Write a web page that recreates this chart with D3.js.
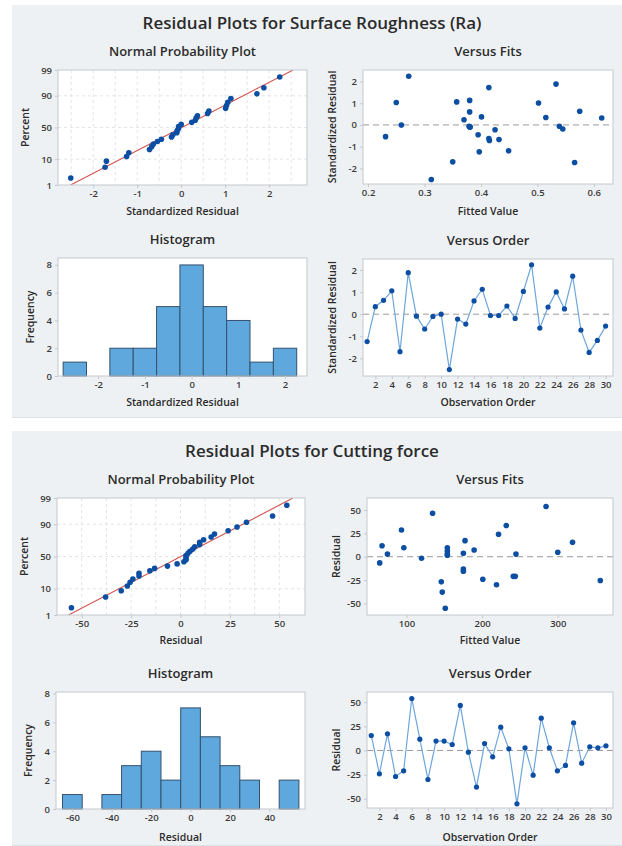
<!DOCTYPE html>
<html>
<head>
<meta charset="utf-8">
<script src="https://cdn.jsdelivr.net/npm/d3@7"></script>
<style>
  html, body { margin: 0; padding: 0; background: #ffffff; }
  svg { display: block; }
  text { font-family: "Open Sans", "Noto Sans", sans-serif; }
</style>
</head>
<body>
<script>
// ---- Surface Roughness (Ra): standardized residuals and fitted values, by run order ----
const surfaceResiduals = [-1.24, 0.34, 0.63, 1.06, -1.70, 1.88, -0.09, -0.67, -0.10, 0.00,
                          -2.51, -0.22, -0.45, 0.60, 1.13, -0.06, -0.06, 0.37, -0.19, 1.03,
                          2.24, -0.63, 0.32, 1.01, 0.24, 1.72, -0.72, -1.73, -1.19, -0.54];
const surfaceFits = [0.397, 0.515, 0.575, 0.357, 0.350, 0.533, 0.380, 0.432, 0.381, 0.259,
                     0.312, 0.425, 0.395, 0.380, 0.380, 0.539, 0.379, 0.401, 0.545, 0.250,
                     0.272, 0.414, 0.614, 0.502, 0.370, 0.414, 0.415, 0.566, 0.449, 0.231];
const surfaceBinEdges = [-2.75, -2.25, -1.75, -1.25, -0.75, -0.25, 0.25, 0.75, 1.25, 1.75, 2.25];

// ---- Cutting force: residuals and fitted values, by run order ----
const cuttingResiduals = [15.5, -24.1, 17.2, -26.9, -21.0, 53.8, 11.7, -30.0, 9.7, 9.7,
                          6.2, 46.6, -1.7, -37.9, 7.2, -6.6, 24.1, 1.7, -55.2, 2.8,
                          -25.5, 33.4, 2.8, -21.0, -15.5, 28.6, -13.1, 3.8, 2.8, 4.8];
const cuttingFits = [319.5, 200.9, 177.4, 146.0, 241.2, 284.5, 67.7, 219.0, 96.5, 154.0,
                     154.0, 134.5, 119.9, 147.3, 189.4, 64.6, 221.7, 154.0, 151.3, 74.8,
                     356.2, 231.9, 154.0, 243.8, 175.2, 93.4, 175.2, 175.2, 244.7, 300.0];
const cuttingBinEdges = [-65, -55, -45, -35, -25, -15, -5, 5, 15, 25, 35, 45, 55];

// ---- Tick labels ----
const percentTicks = [1, 10, 50, 90, 99];
const percentGrid = [10, 50, 90];
const orderTicks = [2, 4, 6, 8, 10, 12, 14, 16, 18, 20, 22, 24, 26, 28, 30];
const freqTicks = [0, 2, 4, 6, 8];
const surfaceStdTicks = [-2, -1, 0, 1, 2];
const surfaceNppGrid = [-2.5, -2, -1.5, -1, -0.5, 0, 0.5, 1, 1.5, 2, 2.5];
const surfaceFitTicks = [0.2, 0.3, 0.4, 0.5, 0.6];
const cuttingResidTicks = [-50, -25, 0, 25, 50];
const cuttingNppGrid = [-50, -37.5, -25, -12.5, 0, 12.5, 25, 37.5, 50];
const cuttingFitTicks = [100, 200, 300];
const cuttingHistTicks = [-60, -40, -20, 0, 20, 40];

const W = 622, H = 846;
const svg = d3.select("body").append("svg").attr("width", W).attr("height", H);

const COLORS = {
  panel: "#eef1f3", panelEdge: "#dde2e6", frame: "#c3c9cf", text: "#2b2b2b",
  tick: "#3a3a3a", point: "#0b4ea2", link: "#6ea6dc", fitLine: "#d2554f",
  bar: "#5ea8dd", barEdge: "#34516e", ref: "#9a9a9a", grid: "#e1e4e8"
};

// Inverse standard normal CDF (Acklam's rational approximation)
function qnorm(p) {
  const a = [-3.969683028665376e+01, 2.209460984245205e+02, -2.759285104469687e+02, 1.383577518672690e+02, -3.066479806614716e+01, 2.506628277459239e+00];
  const b = [-5.447609879822406e+01, 1.615858368580409e+02, -1.556989798598866e+02, 6.680131188771972e+01, -1.328068155288572e+01];
  const c = [-7.784894002430293e-03, -3.223964580411365e-01, -2.400758277161838e+00, -2.549732539343734e+00, 4.374664141464968e+00, 2.938163982698783e+00];
  const d = [7.784695709041462e-03, 3.224671290700398e-01, 2.445134137142996e+00, 3.754408661907416e+00];
  const pl = 0.02425;
  let q, r;
  if (p < pl) {
    q = Math.sqrt(-2 * Math.log(p));
    return (((((c[0]*q+c[1])*q+c[2])*q+c[3])*q+c[4])*q+c[5]) / ((((d[0]*q+d[1])*q+d[2])*q+d[3])*q+1);
  }
  if (p <= 1 - pl) {
    q = p - 0.5; r = q * q;
    return (((((a[0]*r+a[1])*r+a[2])*r+a[3])*r+a[4])*r+a[5])*q / (((((b[0]*r+b[1])*r+b[2])*r+b[3])*r+b[4])*r+1);
  }
  q = Math.sqrt(-2 * Math.log(1 - p));
  return -(((((c[0]*q+c[1])*q+c[2])*q+c[3])*q+c[4])*q+c[5]) / ((((d[0]*q+d[1])*q+d[2])*q+d[3])*q+1);
}

const fmt = d => String(d);

function text(g, x, y, s, size, opts = {}) {
  const t = g.append("text").attr("x", x).attr("y", y).text(s)
    .attr("font-size", size).attr("font-weight", opts.weight || 600)
    .attr("fill", opts.fill || COLORS.text).attr("text-anchor", opts.anchor || "middle");
  if (opts.rotate) t.attr("transform", `rotate(-90,${x},${y})`);
  return t;
}

// Plot frame with subtitle and axis titles
function frame(box, title, xTitle, yTitle, xTitleY, yTitleX) {
  const g = svg.append("g");
  g.append("rect").attr("x", box.x0).attr("y", box.y0)
    .attr("width", box.x1 - box.x0).attr("height", box.y1 - box.y0)
    .attr("fill", "#ffffff");
  const cx = (box.x0 + box.x1) / 2, cy = (box.y0 + box.y1) / 2;
  text(g, cx, box.y0 - 14, title, 13);
  text(g, cx, xTitleY, xTitle, 10.5);
  text(g, yTitleX, cy, yTitle, 10.5, { rotate: true });
  return g;
}

function axes(g, box, x, y, xTicks, yTicks, yTickFmt) {
  const ax = g.append("g").attr("transform", `translate(0,${box.y1})`)
    .call(d3.axisBottom(x).tickValues(xTicks).tickFormat(fmt).tickSize(3).tickPadding(2));
  const ay = g.append("g").attr("transform", `translate(${box.x0},0)`)
    .call(d3.axisLeft(y).tickValues(yTicks).tickFormat(yTickFmt || fmt).tickSize(3).tickPadding(3));
  [ax, ay].forEach(a => {
    a.select(".domain").remove();
    a.selectAll(".tick line").attr("stroke", COLORS.frame);
    a.selectAll(".tick text").attr("font-size", 9.5).attr("font-weight", 600)
      .attr("fill", COLORS.tick).attr("font-family", '"Open Sans", sans-serif');
  });
}

function border(g, box) {
  g.append("rect").attr("x", box.x0).attr("y", box.y0)
    .attr("width", box.x1 - box.x0).attr("height", box.y1 - box.y0)
    .attr("fill", "none").attr("stroke", COLORS.frame).attr("stroke-width", 1);
}

function normalPlot(box, values, xDomain, xTicks, xGrid, title, xTitle, xTitleY) {
  const g = frame(box, title, xTitle, "Percent", xTitleY, box.x0 - 29);
  const x = d3.scaleLinear().domain(xDomain).range([box.x0, box.x1]);
  const y = d3.scaleLinear().domain([qnorm(0.01), qnorm(0.99)]).range([box.y1, box.y0]);
  const grid = g.append("g").attr("stroke", COLORS.grid).attr("stroke-dasharray", "3,3");
  grid.selectAll("line.v").data(xGrid).join("line")
    .attr("x1", d => x(d)).attr("x2", d => x(d)).attr("y1", box.y0).attr("y2", box.y1);
  grid.selectAll("line.h").data(percentGrid).join("line")
    .attr("x1", box.x0).attr("x2", box.x1)
    .attr("y1", d => y(qnorm(d / 100))).attr("y2", d => y(qnorm(d / 100)));

  const n = values.length;
  const mean = d3.mean(values), sd = d3.deviation(values);
  const sorted = values.slice().sort((a, b) => a - b);
  const pts = sorted.map((v, i) => ({ v, z: qnorm((i + 1 - 0.375) / (n + 0.25)) }));

  // Fitted normal line: x = mean + sd * z
  const zLo = qnorm(0.01), zHi = qnorm(0.99);
  g.append("clipPath").attr("id", "clip" + box.y0).append("rect")
    .attr("x", box.x0).attr("y", box.y0).attr("width", box.x1 - box.x0).attr("height", box.y1 - box.y0);
  g.append("line").attr("clip-path", `url(#clip${box.y0})`)
    .attr("x1", x(mean + sd * zLo)).attr("y1", y(zLo))
    .attr("x2", x(mean + sd * zHi)).attr("y2", y(zHi))
    .attr("stroke", COLORS.fitLine).attr("stroke-width", 1.1);
  g.selectAll("circle").data(pts).join("circle")
    .attr("cx", d => x(d.v)).attr("cy", d => y(d.z)).attr("r", 2.8).attr("fill", COLORS.point);
  border(g, box);
  axes(g, box, x, y, xTicks, percentTicks.map(p => qnorm(p / 100)),
       z => String(Math.round(100 * (0.5 * (1 + erf(z / Math.SQRT2))))));
}

function erf(x) {
  // Abramowitz-Stegun 7.1.26
  const s = Math.sign(x); x = Math.abs(x);
  const t = 1 / (1 + 0.3275911 * x);
  const yv = 1 - (((((1.061405429 * t - 1.453152027) * t) + 1.421413741) * t - 0.284496736) * t + 0.254829592) * t * Math.exp(-x * x);
  return s * yv;
}

function fitsPlot(box, fits, resid, xDomain, yDomain, xTicks, yTicks, title, yTitle, xTitleY) {
  const g = frame(box, title, "Fitted Value", yTitle, xTitleY, box.x0 - 27);
  const x = d3.scaleLinear().domain(xDomain).range([box.x0, box.x1]);
  const y = d3.scaleLinear().domain(yDomain).range([box.y1, box.y0]);
  g.append("line").attr("x1", box.x0).attr("x2", box.x1).attr("y1", y(0)).attr("y2", y(0))
    .attr("stroke", COLORS.ref).attr("stroke-dasharray", "6,4").attr("stroke-width", 1);
  g.selectAll("circle").data(fits.map((f, i) => [f, resid[i]])).join("circle")
    .attr("cx", d => x(d[0])).attr("cy", d => y(d[1])).attr("r", 2.8).attr("fill", COLORS.point);
  border(g, box);
  axes(g, box, x, y, xTicks, yTicks);
}

function histPlot(box, values, edges, xDomain, yMax, xTicks, title, xTitle, xTitleY) {
  const g = frame(box, title, xTitle, "Frequency", xTitleY, box.x0 - 24);
  const x = d3.scaleLinear().domain(xDomain).range([box.x0, box.x1]);
  const y = d3.scaleLinear().domain([0, yMax]).range([box.y1, box.y0]);
  const bins = d3.bin().domain([edges[0], edges[edges.length - 1]]).thresholds(edges.slice(1, -1))(values);
  g.selectAll("rect.bar").data(bins).join("rect").attr("class", "bar")
    .attr("x", d => x(d.x0)).attr("width", d => x(d.x1) - x(d.x0))
    .attr("y", d => y(d.length)).attr("height", d => y(0) - y(d.length))
    .attr("fill", COLORS.bar).attr("stroke", COLORS.barEdge).attr("stroke-width", 1);
  border(g, box);
  axes(g, box, x, y, xTicks, freqTicks);
}

function orderPlot(box, resid, xDomain, yDomain, yTicks, title, yTitle, xTitleY) {
  const g = frame(box, title, "Observation Order", yTitle, xTitleY, box.x0 - 27);
  const x = d3.scaleLinear().domain(xDomain).range([box.x0, box.x1]);
  const y = d3.scaleLinear().domain(yDomain).range([box.y1, box.y0]);
  g.append("line").attr("x1", box.x0).attr("x2", box.x1).attr("y1", y(0)).attr("y2", y(0))
    .attr("stroke", COLORS.ref).attr("stroke-dasharray", "6,4").attr("stroke-width", 1);
  const pts = resid.map((r, i) => [i + 1, r]);
  g.append("path").datum(pts)
    .attr("d", d3.line().x(d => x(d[0])).y(d => y(d[1])))
    .attr("fill", "none").attr("stroke", COLORS.link).attr("stroke-width", 1.2);
  g.selectAll("circle").data(pts).join("circle")
    .attr("cx", d => x(d[0])).attr("cy", d => y(d[1])).attr("r", 2.6).attr("fill", COLORS.point);
  border(g, box);
  axes(g, box, x, y, orderTicks, yTicks);
}

// ---- Panel backgrounds and headings ----
function panel(y0, y1, heading, headingY) {
  svg.append("rect").attr("x", 12).attr("y", y0).attr("width", W - 12).attr("height", y1 - y0)
    .attr("fill", COLORS.panel);
  svg.append("line").attr("x1", 12).attr("x2", W).attr("y1", y1 - 0.5).attr("y2", y1 - 0.5)
    .attr("stroke", COLORS.panelEdge);
  text(svg, 312, headingY, heading, 17);
}
panel(5, 418, "Residual Plots for Surface Roughness (Ra)", 29);
panel(431, 846, "Residual Plots for Cutting force", 457);

// ---- Surface Roughness (Ra) ----
normalPlot({ x0: 58, x1: 307, y0: 70, y1: 185 }, surfaceResiduals, [-2.8, 2.86],
  surfaceStdTicks, surfaceNppGrid, "Normal Probability Plot", "Standardized Residual", 215);
fitsPlot({ x0: 363, x1: 613, y0: 70, y1: 184 }, surfaceFits, surfaceResiduals,
  [0.191, 0.634], [-2.72, 2.53], surfaceFitTicks, surfaceStdTicks,
  "Versus Fits", "Standardized Residual", 215);
histPlot({ x0: 58, x1: 307, y0: 258, y1: 376 }, surfaceResiduals, surfaceBinEdges,
  [-2.86, 2.47], 8.5, surfaceStdTicks, "Histogram", "Standardized Residual", 406);
orderPlot({ x0: 363, x1: 613, y0: 259, y1: 376 }, surfaceResiduals, [0.5, 30.9], [-2.8, 2.5],
  surfaceStdTicks, "Versus Order", "Standardized Residual", 406);

// ---- Cutting force ----
normalPlot({ x0: 57, x1: 305, y0: 498, y1: 615 }, cuttingResiduals, [-62.5, 63],
  cuttingResidTicks, cuttingNppGrid, "Normal Probability Plot", "Residual", 644);
fitsPlot({ x0: 367, x1: 613, y0: 498, y1: 615 }, cuttingFits, cuttingResiduals,
  [47.8, 373], [-62.4, 62.9], cuttingFitTicks, cuttingResidTicks,
  "Versus Fits", "Residual", 644);
histPlot({ x0: 56, x1: 305, y0: 692, y1: 809 }, cuttingResiduals, cuttingBinEdges,
  [-68.3, 58.1], 8.1, cuttingHistTicks, "Histogram", "Residual", 841);
orderPlot({ x0: 367, x1: 613, y0: 692, y1: 808 }, cuttingResiduals, [0.47, 30.87], [-59.5, 60.5],
  cuttingResidTicks, "Versus Order", "Residual", 841);
</script>
</body>
</html>
